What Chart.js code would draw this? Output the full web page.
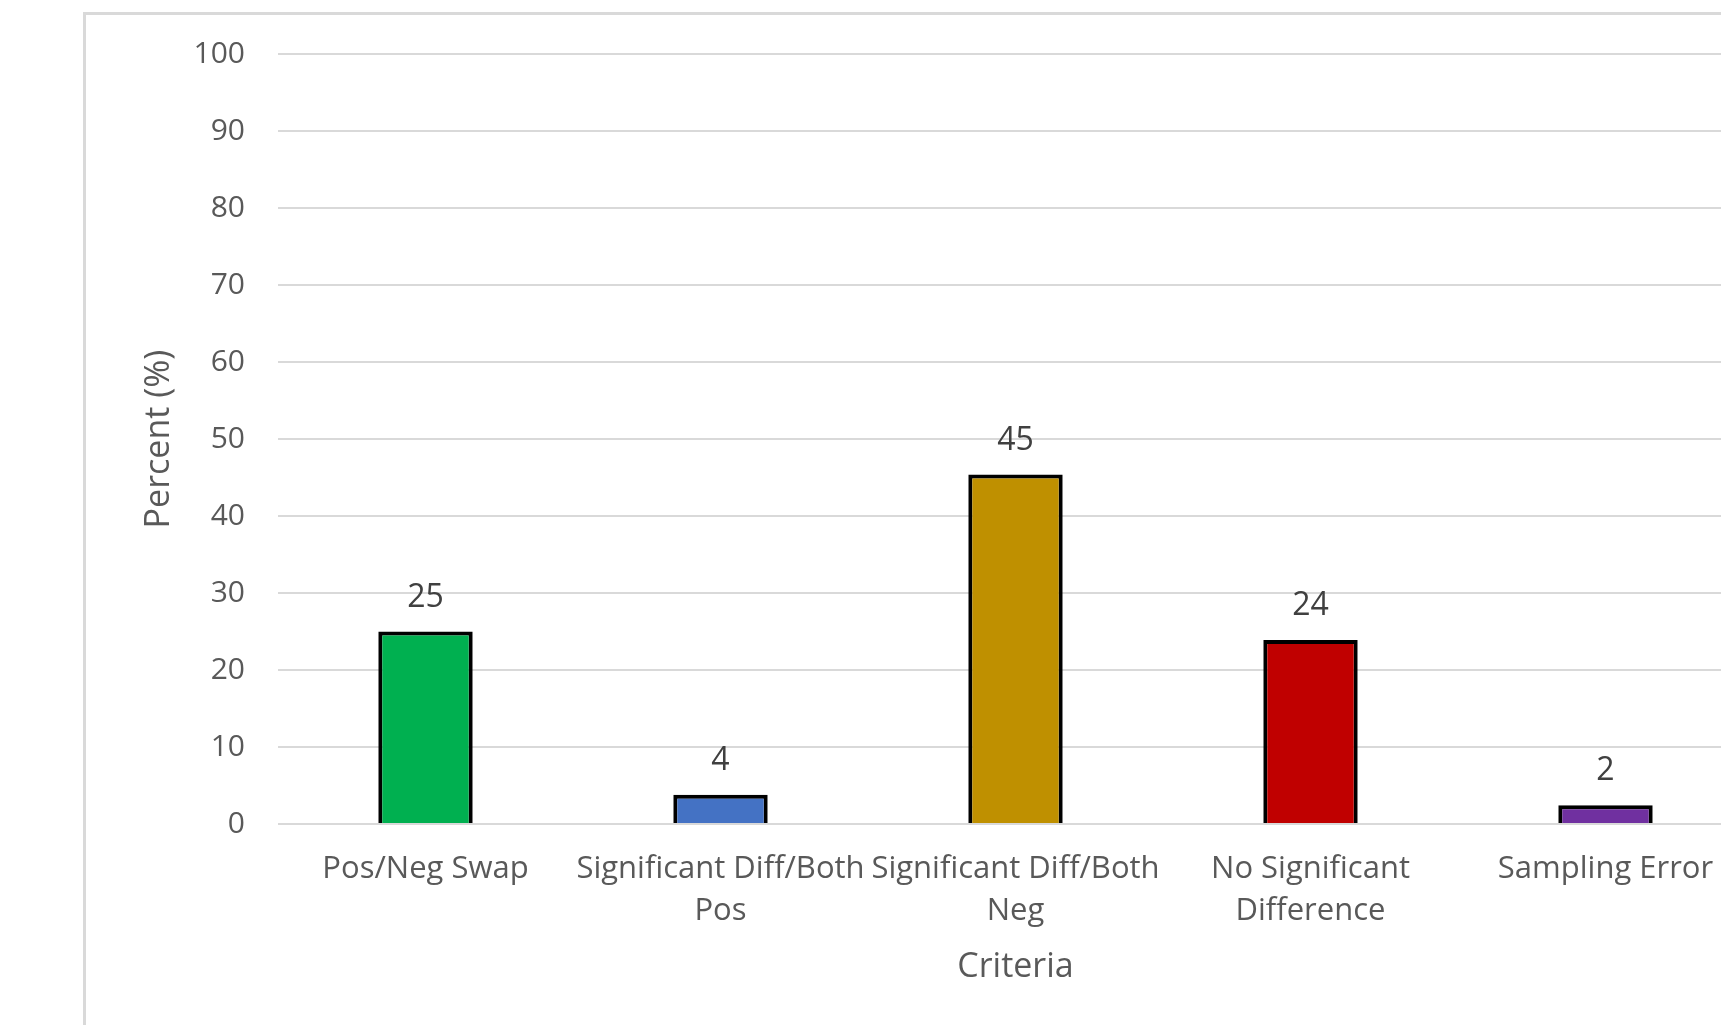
<!DOCTYPE html>
<html>
<head>
<meta charset="utf-8">
<script src="https://cdn.jsdelivr.net/npm/chart.js@4.4.1/dist/chart.umd.min.js"></script>
<style>
  html, body { margin: 0; padding: 0; background: #fff; overflow: hidden; }
  #frame {
    position: absolute; left: 83px; top: 12px;
    width: 1800px; height: 1100px;
    border: 3px solid #d9d9d9; background: #fff;
  }
  #myChart { display: block; }
</style>
</head>
<body>
<div id="frame">
  <canvas id="myChart" width="1800" height="1010" style="width:1800px;height:1010px"></canvas>
</div>
<script>
// categories and values
var categories = [
    'Pos/Neg Swap',
    ['Significant Diff/Both', 'Pos'],
    ['Significant Diff/Both', 'Neg'],
    ['No Significant', 'Difference'],
    'Sampling Error'
];
var percentValues = [25.0, 3.8, 45.4, 23.9, 2.45];
var barColors = ['#00B050', '#4472C4', '#BF9000', '#C00000', '#7030A0'];
var yTicks = [0, 10, 20, 30, 40, 50, 60, 70, 80, 90, 100];

var fontFamily = '"Open Sans", "Noto Sans", sans-serif';

// value labels above the bars
var barLabels = {
    id: 'barLabels',
    afterDatasetsDraw: function (chart) {
        var ctx = chart.ctx;
        var meta = chart.getDatasetMeta(0);
        ctx.save();
        ctx.font = '32px ' + fontFamily;
        ctx.fillStyle = '#404040';
        ctx.textAlign = 'center';
        ctx.textBaseline = 'middle';
        meta.data.forEach(function (bar, i) {
            ctx.fillText(String(Math.round(percentValues[i])), bar.x, bar.y - 34);
        });
        ctx.restore();
    }
};

var ctx = document.getElementById('myChart').getContext('2d');
new Chart(ctx, {
    type: 'bar',
    data: {
        labels: categories,
        datasets: [{
            data: percentValues,
            backgroundColor: barColors,
            borderColor: '#000000',
            borderWidth: 4,
            borderSkipped: 'start',
            barPercentage: 0.32,
            categoryPercentage: 1
        }]
    },
    options: {
        responsive: false,
        animation: false,
        layout: { padding: { top: 39, right: 133, bottom: 0, left: 0 } },
        plugins: {
            legend: { display: false },
            tooltip: { enabled: false }
        },
        scales: {
            x: {
                grid: { display: false, drawTicks: false },
                border: { display: false },
                ticks: {
                    autoSkip: false,
                    maxRotation: 0,
                    minRotation: 0,
                    padding: 24,
                    color: '#595959',
                    font: { family: fontFamily, size: 31, lineHeight: 1.36 }
                },
                title: {
                    display: true,
                    text: 'Criteria',
                    color: '#595959',
                    font: { family: fontFamily, size: 34, lineHeight: 1.2 },
                    padding: { top: 0, bottom: 37 }
                },
                afterFit: function (scale) { scale.height = 201; }
            },
            y: {
                min: 0,
                max: 100,
                afterBuildTicks: function (scale) {
                    scale.ticks = yTicks.map(function (v) { return { value: v }; });
                },
                grid: {
                    color: '#d9d9d9',
                    lineWidth: 2,
                    drawTicks: true,
                    tickLength: 30,
                    tickColor: 'rgba(0,0,0,0)'
                },
                border: { display: false },
                ticks: {
                    padding: 3,
                    color: '#595959',
                    font: { family: fontFamily, size: 30 }
                },
                title: {
                    display: true,
                    text: 'Percent (%)',
                    color: '#595959',
                    font: { family: fontFamily, size: 34, lineHeight: 1.2 },
                    padding: { top: 53, bottom: 0 }
                },
                afterFit: function (scale) { scale.width = 192; }
            }
        }
    },
    plugins: [barLabels]
});
</script>
</body>
</html>
